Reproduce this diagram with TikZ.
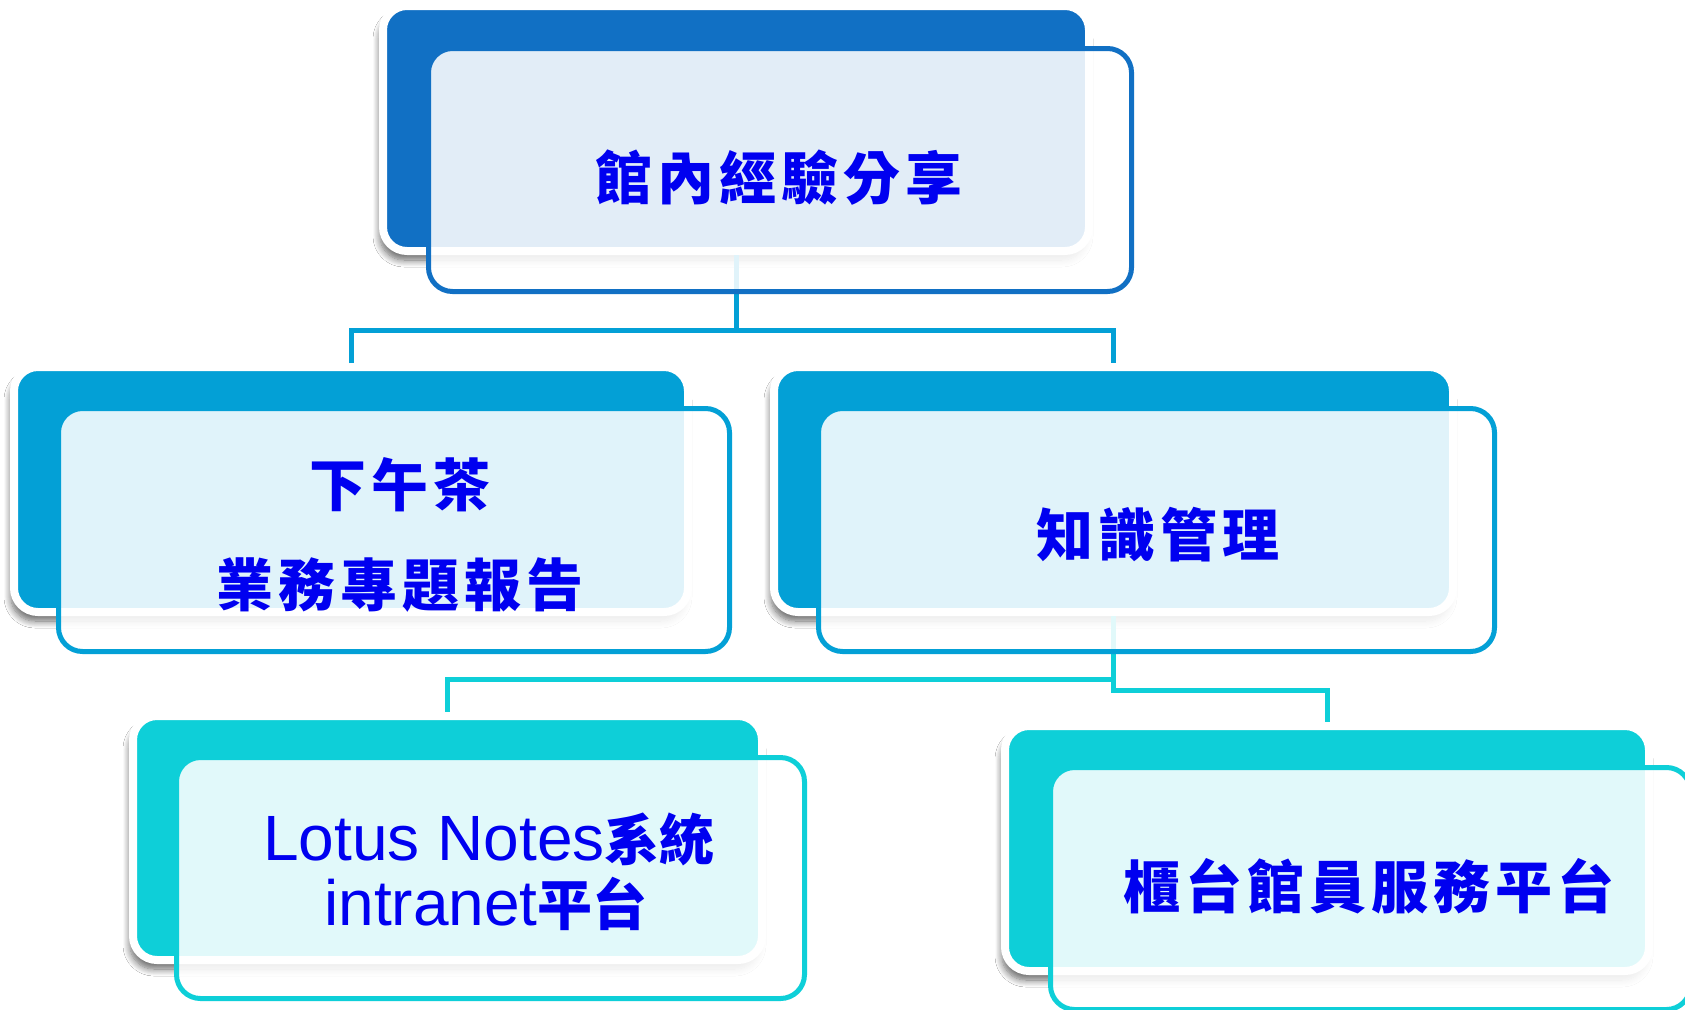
\documentclass[tikz,border=0pt]{standalone}
\usepackage{fontspec}
\setmainfont{Liberation Sans}
\newfontfamily\cjk{Noto Sans CJK TC}
\newfontfamily\cjkls{Noto Sans CJK TC}[LetterSpace=9]
\usetikzlibrary{shadows.blur}
\definecolor{cA}{RGB}{17,112,196}
\definecolor{cB}{RGB}{3,160,214}
\definecolor{cC}{RGB}{14,207,216}
\definecolor{txt}{RGB}{0,0,240}
\begin{document}
\begin{tikzpicture}[x=1pt,y=-1pt,
  backbox/.style={rectangle, rounded corners=24pt, draw=white, line width=8pt, fill=#1, inner sep=0pt,
    blur shadow={shadow xshift=-3pt, shadow yshift=-9pt, shadow opacity=60, shadow blur radius=7pt, shadow blur steps=10}},
  frontbox/.style={rectangle, rounded corners=24pt, draw=#1, line width=5pt, fill=white, fill opacity=0.88, draw opacity=1, inner sep=0pt},
  link/.style={draw=#1, line width=5pt},
  lbl/.style={text=txt, inner sep=0pt, font=\cjkls\bfseries\fontsize{57}{60}\selectfont},
  lat/.style={text=txt, inner sep=0pt, anchor=base, font=\fontsize{64}{66}\selectfont},
]
\path[use as bounding box, fill=white] (0,0) rectangle (1685,1009);

% back boxes
\node[backbox=cA, minimum width=706pt, minimum height=245pt] (b0) at (736,128.5) {};
\node[backbox=cB, minimum width=674pt, minimum height=245pt] (b1) at (351,489.5) {};
\node[backbox=cB, minimum width=679pt, minimum height=245pt] (b2) at (1113.5,489.5) {};
\node[backbox=cC, minimum width=629pt, minimum height=244pt] (b3) at (447.5,838) {};
\node[backbox=cC, minimum width=644pt, minimum height=245pt] (b4) at (1327,848.5) {};

% connectors
\coordinate (j1) at (736,330);
\draw[link=cB] (b0.south) -- (j1);
\draw[link=cB] (b1.north) |- (j1) -| (b2.north);
\coordinate (j2) at (1113.5,679);
\coordinate (j3) at (1113.5,690);
\draw[link=cC] (b2.south) -- (j3) -| (b4.north);
\draw[link=cC] (j2) -| (b3.north);

% front boxes
\node[frontbox=cA, minimum width=703pt, minimum height=243pt] (f0) at (780,170) {};
\node[frontbox=cB, minimum width=671pt, minimum height=243pt] (f1) at (394,530) {};
\node[frontbox=cB, minimum width=676pt, minimum height=243pt] (f2) at (1156.5,530) {};
\node[frontbox=cC, minimum width=628pt, minimum height=241pt] (f3) at (490.5,878) {};
\node[frontbox=cC, minimum width=640pt, minimum height=242pt] (f4) at (1370.5,888.5) {};

% texts
\node[lbl] (t0) at (779,178) {館內經驗分享};
\node[lbl] (t1a) at (400,485) {下午茶};
\node[lbl] (t1b) at (400,585) {業務專題報告};
\node[lbl] (t2) at (1158,535) {知識管理};
\node[lbl] (t4) at (1369,886) {櫃台館員服務平台};
\node[lat] (t3a) at (489,860) {Lotus Notes{\cjk\bfseries\fontsize{55}{60}\selectfont 系統}};
\node[lat] (t3b) at (486,925) {intranet{\cjk\bfseries\fontsize{55}{60}\selectfont 平台}};
\end{tikzpicture}
\end{document}
